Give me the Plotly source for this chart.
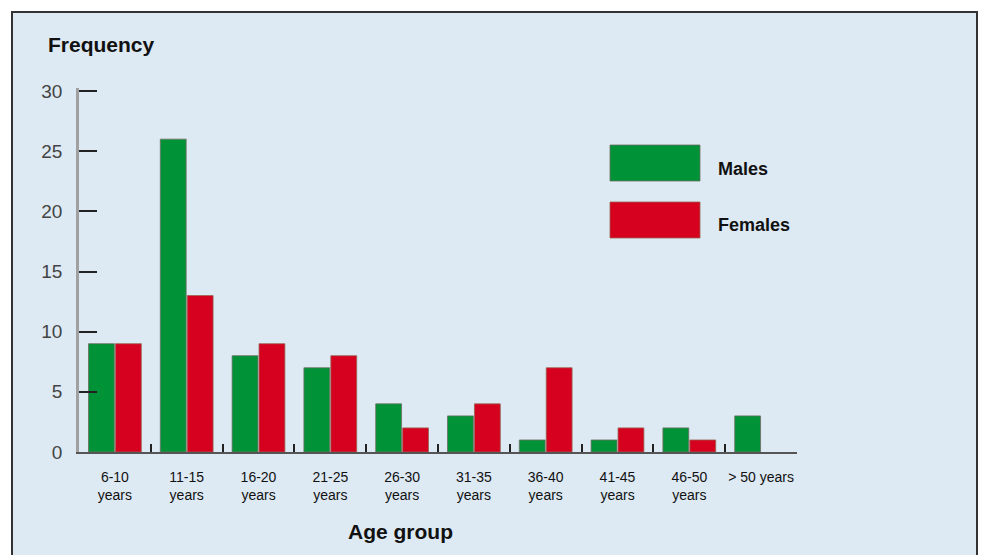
import plotly.graph_objects as go

categories = ["6-10<br>years", "11-15<br>years", "16-20<br>years", "21-25<br>years",
              "26-30<br>years", "31-35<br>years", "36-40<br>years", "41-45<br>years",
              "46-50<br>years", "> 50 years"]
males = [9, 26, 8, 7, 4, 3, 1, 1, 2, 3]
females = [9, 13, 9, 8, 2, 4, 7, 2, 1, None]
y_ticks = [0, 5, 10, 15, 20, 25, 30]

W, H = 981, 555
L, R, T, B = 79, 184, 88, 103
PW, PH = W - L - R, H - T - B
Y_TOP = PH / (361 / 30)

def px(x):
    return (x - L) / PW

def py(y):
    return (H - B - y) / PH

GREEN = "#009236"
RED = "#d6001f"
BG = "#dde9f3"
FONT = "Liberation Sans, Arial, sans-serif"

fig = go.Figure()
fig.add_trace(go.Bar(x=categories, y=males, name="Males",
                     marker=dict(color=GREEN, line=dict(color="rgba(110,110,100,0.8)", width=1))))
fig.add_trace(go.Bar(x=categories, y=females, name="Females",
                     marker=dict(color=RED, line=dict(color="rgba(150,100,80,0.8)", width=1))))

shapes = [
    dict(type="rect", xref="paper", yref="paper", x0=px(12), x1=px(977), y0=py(570), y1=py(12),
         fillcolor=BG, line=dict(color="#333333", width=2), layer="below"),
    dict(type="rect", xref="paper", yref="paper", x0=px(610), x1=px(700), y0=py(181), y1=py(145),
         fillcolor=GREEN, line=dict(color="rgba(110,110,100,0.8)", width=1)),
    dict(type="rect", xref="paper", yref="paper", x0=px(610), x1=px(700), y0=py(238), y1=py(202),
         fillcolor=RED, line=dict(color="rgba(150,100,80,0.8)", width=1)),
]

annotations = [
    dict(text="<b>Frequency</b>", xref="paper", yref="paper", x=px(46), y=py(45),
         xanchor="left", yanchor="middle", showarrow=False, font=dict(size=21, color="#111", family=FONT)),
    dict(text="<b>Age group</b>", xref="paper", yref="paper", x=px(400), y=py(531),
         xanchor="center", yanchor="middle", showarrow=False, font=dict(size=21, color="#111", family=FONT)),
    dict(text="<b>Males</b>", xref="paper", yref="paper", x=px(716), y=py(169),
         xanchor="left", yanchor="middle", showarrow=False, font=dict(size=18, color="#111", family=FONT)),
    dict(text="<b>Females</b>", xref="paper", yref="paper", x=px(716), y=py(225),
         xanchor="left", yanchor="middle", showarrow=False, font=dict(size=18, color="#111", family=FONT)),
]

fig.update_layout(
    width=W, height=H,
    margin=dict(l=L, r=R, t=T, b=B, pad=0),
    paper_bgcolor="white",
    plot_bgcolor="rgba(0,0,0,0)",
    barmode="group",
    bargap=0.25,
    bargroupgap=0.04,
    showlegend=False,
    shapes=shapes,
    annotations=annotations,
    font=dict(family=FONT, color="#333"),
)
fig.update_xaxes(
    type="category", range=[-0.5, 9.5],
    showline=True, linecolor="#555555", linewidth=2,
    ticks="inside", tickson="boundaries", ticklen=8, tickcolor="#222", tickwidth=1.5,
    tickangle=0,
    tickfont=dict(size=14, color="#111", family=FONT),
    ticklabelstandoff=11,
    showgrid=False, zeroline=False,
)
fig.update_yaxes(
    range=[0, Y_TOP], tickvals=y_ticks,
    showline=True, linecolor="#a0a0a0", linewidth=2.5,
    ticks="inside", ticklen=18, tickcolor="#222", tickwidth=1.5,
    tickfont=dict(size=19, color="#444", family=FONT),
    ticklabelstandoff=10,
    showgrid=False, zeroline=False,
)

fig.write_html("out.html", config={"displayModeBar": False},
               post_script="document.body.style.margin='0';")
